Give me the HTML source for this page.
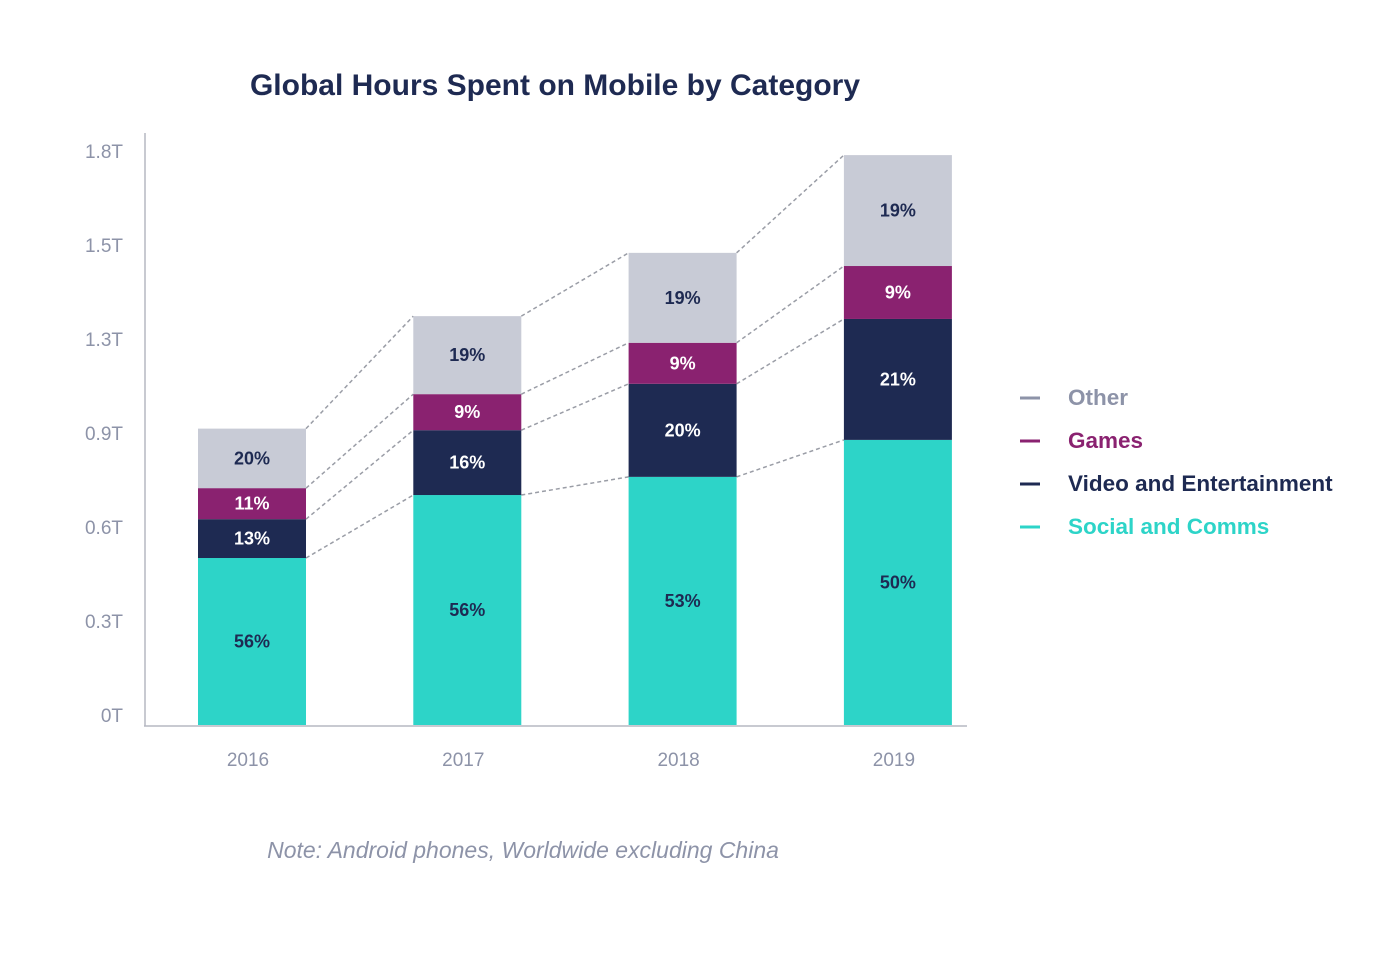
<!DOCTYPE html>
<html><head><meta charset="utf-8"><style>
body{margin:0;background:#fff;width:1398px;height:972px;overflow:hidden;font-family:"Liberation Sans",sans-serif}
</style></head><body>
<svg id="chart" width="1398" height="972">
<text x="555" y="95" text-anchor="middle" font-size="30" font-weight="bold" fill="#1e2a52">Global Hours Spent on Mobile by Category</text>
<g id="yaxis"></g>
<g id="bars"></g>
<g id="legend"></g>
<text x="523" y="858" text-anchor="middle" font-size="23" font-style="italic" fill="#8d93a8">Note: Android phones, Worldwide excluding China</text>
</svg>
<script>
const categories=["2016","2017","2018","2019"];
const social=[0.533,0.734,0.792,0.91];
const video=[0.124,0.207,0.297,0.386];
const games=[0.099,0.115,0.131,0.169];
const other=[0.19,0.249,0.287,0.354];
const socialPct=["56%","56%","53%","50%"];
const videoPct=["13%","16%","20%","21%"];
const gamesPct=["11%","9%","9%","9%"];
const otherPct=["20%","19%","19%","19%"];
const yTicks=[0,0.3,0.6,0.9,1.2,1.5,1.8];
const yTickLabels=["0T","0.3T","0.6T","0.9T","1.3T","1.5T","1.8T"];
const series=[
 {name:"Social and Comms",vals:social,pct:socialPct,color:"#2dd4c8",tc:"#1e2a52",key:"social"},
 {name:"Video and Entertainment",vals:video,pct:videoPct,color:"#1e2a52",tc:"#fff",key:"video"},
 {name:"Games",vals:games,pct:gamesPct,color:"#8a2270",tc:"#fff",key:"games"},
 {name:"Other",vals:other,pct:otherPct,color:"#c8cbd6",tc:"#1e2a52",key:"other"}];
const NS="http://www.w3.org/2000/svg";
const base=725,pxPerT=313.3,x0=198,step=215.3,bw=108;
const y=v=>base-v*pxPerT;
const bx=i=>x0+i*step;
function mk(tag,attrs,parent,txt){const e=document.createElementNS(NS,tag);for(const k in attrs)e.setAttribute(k,attrs[k]);if(txt!==undefined)e.textContent=txt;parent.appendChild(e);return e;}
const ya=document.getElementById('yaxis'),bg=document.getElementById('bars'),lg=document.getElementById('legend');
let l=mk('line',{x1:145,y1:133,x2:145,y2:726,stroke:'#b5b8c2','stroke-width':1.5},ya);


l=mk('line',{x1:144,y1:726,x2:967,y2:726,stroke:'#b5b8c2','stroke-width':1.5},ya);


yTicks.forEach((t,i)=>{const e=mk('text',{x:123,y:y(t)-3,'text-anchor':'end','font-size':19,fill:'#8d93a8'},ya,yTickLabels[i]);

});
categories.forEach((c,i)=>{const e=mk('text',{x:bx(i)+bw/2-4,y:766,'text-anchor':'middle','font-size':19,fill:'#8d93a8'},ya,c);

});
const bounds=categories.map((c,i)=>{let acc=0;const b=[0];series.forEach(s=>{acc+=s.vals[i];b.push(acc);});return b;});
for(let i=0;i<categories.length-1;i++){for(let k=1;k<=4;k++){const e=mk('line',{x1:bx(i)+bw,y1:y(bounds[i][k]),x2:bx(i+1),y2:y(bounds[i+1][k]),stroke:'#9a9da6','stroke-width':1.5,'stroke-dasharray':'4,3'},bg);

}}
categories.forEach((c,i)=>{series.forEach((s,k)=>{const y1=y(bounds[i][k+1]),y0=y(bounds[i][k]);
const r=mk('rect',{x:bx(i),y:y1,width:bw,height:y0-y1,fill:s.color},bg);


const t=mk('text',{x:bx(i)+bw/2,y:(y0+y1)/2+6,'text-anchor':'middle','font-size':18,'font-weight':'bold',fill:s.tc},bg,s.pct[i]);

});});
const leg=[["Other","#8d93a8","#8d93a8"],["Games","#8a2270","#8a2270"],["Video and Entertainment","#1e2a52","#1e2a52"],["Social and Comms","#2dd4c8","#2dd4c8"]];
leg.forEach((d,i)=>{const yy=397+i*43;const g=mk('g',{},lg);


mk('line',{x1:1020,y1:yy+1,x2:1040,y2:yy+1,stroke:d[1],'stroke-width':3},g);
mk('text',{x:1068,y:yy+8,'font-size':22.5,'font-weight':'bold',fill:d[2]},g,d[0]);});
</script>
</body></html>
